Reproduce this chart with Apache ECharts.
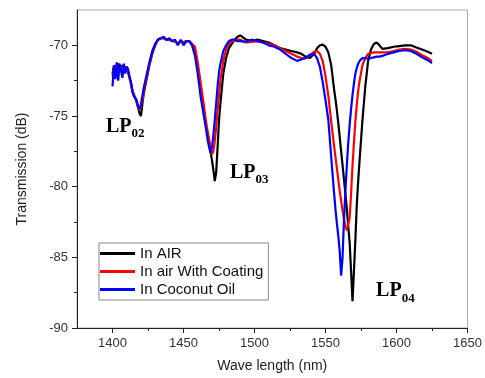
<!DOCTYPE html>
<html>
<head>
<meta charset="utf-8">
<script src="https://cdn.jsdelivr.net/npm/echarts@6/dist/echarts.min.js"></script>
<style>
  html, body { margin: 0; padding: 0; background: #fff; }
  #chart { width: 485px; height: 378px; }
</style>
</head>
<body>
<div id="chart"></div>
<script>
// wavelength grid (nm)
const wavelength = [
  1400, 1401, 1402, 1403, 1404, 1405, 1406, 1407, 1408, 1409, 1410, 1411, 1412, 1413, 1414, 1415, 1416, 1417, 1418, 1419, 1420, 1421, 1422,
  1424, 1426, 1428, 1430, 1432, 1434, 1436, 1438, 1440, 1442, 1444, 1446, 1448, 1450, 1452, 1454, 1456, 1458, 1460, 1462, 1464,
  1466, 1467, 1468, 1469, 1470, 1471, 1472, 1473, 1474, 1475, 1476,
  1478, 1480, 1482, 1484, 1486, 1488, 1490,
  1494, 1498, 1502, 1506, 1510, 1514, 1518, 1522, 1526, 1530,
  1533, 1536, 1539, 1542,
  1544, 1546, 1548, 1550, 1552, 1554, 1556,
  1557, 1558, 1559, 1560, 1561, 1562, 1563, 1564, 1565, 1566, 1567, 1568, 1569, 1570, 1571, 1572, 1573, 1574,
  1576, 1578, 1580, 1582, 1584, 1586, 1588, 1590,
  1594, 1598, 1602, 1606, 1610, 1614, 1618, 1622, 1625
];

// In AIR
const airDb = [
  -72.0, -71.5, -71.4, -71.6, -71.3, -71.5, -71.7, -71.4, -71.6, -71.5, -71.6, -71.9, -72.3, -72.7, -73.2, -73.5, -73.7, -74.0, -74.4, -74.8, -75.0, -74.2, -73.4,
  -72.4, -71.4, -70.6, -70.0, -69.6, -69.5, -69.5, -69.6, -69.6, -69.7, -69.7, -69.9, -69.7, -69.8, -69.7, -69.7, -69.9, -70.3, -71.4, -73.1, -74.6,
  -75.7, -76.3, -76.9, -77.5, -78.1, -78.8, -79.6, -79.0, -77.2, -75.3, -74.1,
  -72.0, -70.9, -70.2, -69.9, -69.6, -69.4, -69.3,
  -69.6, -69.7, -69.6, -69.7, -69.8, -70.0, -70.2, -70.3, -70.4, -70.5,
  -70.6, -70.8, -70.9, -70.6,
  -70.2, -70.0, -69.95, -70.1, -70.5, -71.4, -73.1,
  -73.8, -74.6, -75.5, -76.5, -77.5, -78.5, -79.5, -80.5, -81.6, -82.8, -84.0, -86.0, -88.1, -86.0, -83.8, -81.3, -79.6, -78.1,
  -75.3, -72.9, -71.1, -70.3, -69.9, -69.8, -70.0, -70.25,
  -70.2, -70.1, -70.05, -70.0, -70.0, -70.15, -70.3, -70.45, -70.6
];

// In air With Coating
const coatingDb = [
  -72.2, -71.6, -71.4, -71.7, -71.4, -71.5, -71.8, -71.5, -71.6, -71.6, -71.7, -71.9, -72.3, -72.7, -73.1, -73.5, -73.7, -74.0, -74.4, -74.6, -74.6, -74.0, -73.2,
  -72.3, -71.3, -70.5, -70.0, -69.6, -69.5, -69.5, -69.6, -69.6, -69.7, -69.7, -69.9, -69.7, -69.8, -69.7, -69.7, -69.9, -70.1, -71.2, -72.6, -74.0,
  -75.5, -76.1, -76.6, -77.2, -77.7, -77.5, -76.8, -75.8, -74.6, -73.5, -72.5,
  -71.1, -70.3, -69.9, -69.7, -69.7, -69.6, -69.6,
  -69.8, -69.75, -69.7, -69.8, -69.9, -70.0, -70.2, -70.4, -70.6, -70.8,
  -70.9, -70.9, -70.7, -70.45,
  -70.4, -70.6, -71.1, -72.2, -73.6, -75.4, -77.1,
  -77.9, -78.7, -79.5, -80.3, -81.0, -81.7, -82.3, -82.8, -83.1, -83.1, -82.2, -80.5, -78.5, -76.9, -75.4, -74.2, -73.2, -72.5,
  -71.4, -70.9, -70.6, -70.55, -70.5, -70.5, -70.5, -70.5,
  -70.5, -70.4, -70.3, -70.25, -70.3, -70.45, -70.7, -70.9, -71.1
];

// In Coconut Oil
const oilDb = [
  -72.9, -71.4, -72.4, -71.2, -72.5, -71.3, -71.2, -72.3, -71.3, -72.0, -71.5, -71.7, -72.2, -72.6, -73.3, -73.6, -73.7, -73.9, -74.3, -74.5, -74.2, -73.6, -73.0,
  -72.1, -71.2, -70.4, -69.9, -69.6, -69.5, -69.4, -69.6, -69.5, -69.7, -69.6, -70.0, -69.6, -70.0, -69.7, -69.7, -70.0, -70.7, -72.0, -73.6, -74.8,
  -76.0, -76.7, -77.2, -77.6, -77.2, -76.4, -75.3, -74.1, -72.9, -71.9, -71.3,
  -70.4, -70.0, -69.7, -69.6, -69.6, -69.7, -69.7,
  -69.75, -69.6, -69.7, -69.8, -70.0, -70.1, -70.3, -70.6, -70.9, -71.1,
  -71.0, -70.9, -70.65, -70.6,
  -70.9, -71.5, -72.6, -73.9, -75.3, -77.9, -80.4,
  -81.6, -82.6, -83.5, -84.6, -86.3, -85.0, -82.3, -80.3, -78.5, -76.9, -75.6, -74.5, -73.5, -72.7, -72.0, -71.6, -71.3, -71.1,
  -70.9, -70.9, -70.95, -70.9, -70.85, -70.8, -70.8, -70.75,
  -70.6, -70.5, -70.4, -70.35, -70.4, -70.6, -70.85, -71.05, -71.25
];

const seriesNames = ['In AIR', 'In air With Coating', 'In Coconut Oil'];
const seriesColors = ['#000000', '#ff0000', '#0000ff'];
const seriesData = [airDb, coatingDb, oilDb];

const xMajorTicks = [1400, 1450, 1500, 1550, 1600, 1650];
const xMinorTicks = [1425, 1475, 1525, 1575, 1625];
const yMajorTicks = [-90, -85, -80, -75, -70];
const yMinorTicks = [-87.5, -82.5, -77.5, -72.5];

// mode labels: [subscript, wavelength, dB]
const modeLabels = [
  ['02', 1395.4, -75.75],
  ['03', 1482.7, -79.0],
  ['04', 1585.6, -87.4]
];

const chart = echarts.init(document.getElementById('chart'));

const axisFont = { fontFamily: 'Liberation Sans, Arial, sans-serif', fontSize: 13, color: '#333' };

const option = {
  backgroundColor: '#fff',
  animation: false,
  grid: {
    left: 77, right: 17, top: 10, bottom: 49,
    show: true, borderColor: '#aaa', borderWidth: 1
  },
  legend: {
    data: seriesNames,
    orient: 'vertical',
    left: 99, top: 243,
    padding: [3, 5, 3, 1],
    icon: 'rect',
    itemWidth: 35, itemHeight: 3, itemGap: 3,
    backgroundColor: '#fff',
    borderColor: '#888', borderWidth: 1, borderRadius: 0,
    textStyle: { fontFamily: 'Liberation Sans, Arial, sans-serif', fontSize: 15, lineHeight: 15, color: '#111' }
  },
  xAxis: [
    {
      type: 'value', min: 1375, max: 1650,
      name: 'Wave length (nm)', nameLocation: 'middle', nameGap: 31,
      nameTextStyle: { fontFamily: 'Liberation Sans, Arial, sans-serif', fontSize: 14, color: '#222' },
      axisLine: { onZero: false, lineStyle: { color: '#222', width: 1 } },
      axisTick: { customValues: xMajorTicks, length: 5, lineStyle: { color: '#222' } },
      axisLabel: Object.assign({ customValues: xMajorTicks, margin: 9, formatter: v => String(v) }, axisFont),
      splitLine: { show: false }
    },
    {
      type: 'value', min: 1375, max: 1650, position: 'bottom',
      axisLine: { show: false },
      axisTick: { customValues: xMinorTicks, length: 3, lineStyle: { color: '#222' } },
      axisLabel: { show: false },
      splitLine: { show: false }
    }
  ],
  yAxis: [
    {
      type: 'value', min: -90, max: -67.5,
      name: 'Transmission (dB)', nameLocation: 'middle', nameGap: 48,
      nameTextStyle: { fontFamily: 'Liberation Sans, Arial, sans-serif', fontSize: 14, color: '#222' },
      axisLine: { show: true, onZero: false, lineStyle: { color: '#222', width: 1 } },
      axisTick: { show: true, customValues: yMajorTicks, length: 5, lineStyle: { color: '#222' } },
      axisLabel: Object.assign({ customValues: yMajorTicks, margin: 9, formatter: v => String(v) }, axisFont),
      splitLine: { show: false }
    },
    {
      type: 'value', min: -90, max: -67.5, position: 'left',
      axisLine: { show: false },
      axisTick: { show: true, customValues: yMinorTicks, length: 3, lineStyle: { color: '#222' } },
      axisLabel: { show: false },
      splitLine: { show: false }
    }
  ],
  series: seriesNames.map((name, i) => ({
    name: name,
    type: 'line',
    xAxisIndex: 0,
    yAxisIndex: 0,
    showSymbol: false,
    symbol: 'none',
    smooth: false,
    color: seriesColors[i],
    lineStyle: { color: seriesColors[i], width: 2.2 },
    data: wavelength.map((w, j) => [w, seriesData[i][j]])
  }))
};

chart.setOption(option);

// mode labels placed from data coordinates
const graphics = modeLabels.map(([sub, wl, db]) => {
  const p = chart.convertToPixel({ xAxisIndex: 0, yAxisIndex: 0 }, [wl, db]);
  return {
    type: 'text',
    x: p[0], y: p[1],
    style: {
      text: '{m|LP}{s|' + sub + '}',
      verticalAlign: 'middle',
      rich: {
        m: { fontFamily: 'Liberation Serif, Times New Roman, serif', fontWeight: 'bold', fontSize: 20, fill: '#000', verticalAlign: 'bottom', lineHeight: 20 },
        s: { fontFamily: 'Liberation Serif, Times New Roman, serif', fontWeight: 'bold', fontSize: 13, fill: '#000', verticalAlign: 'bottom', lineHeight: 14, padding: [0, 0, -4, 0] }
      }
    }
  };
});
chart.setOption({ graphic: graphics });
</script>
</body>
</html>
